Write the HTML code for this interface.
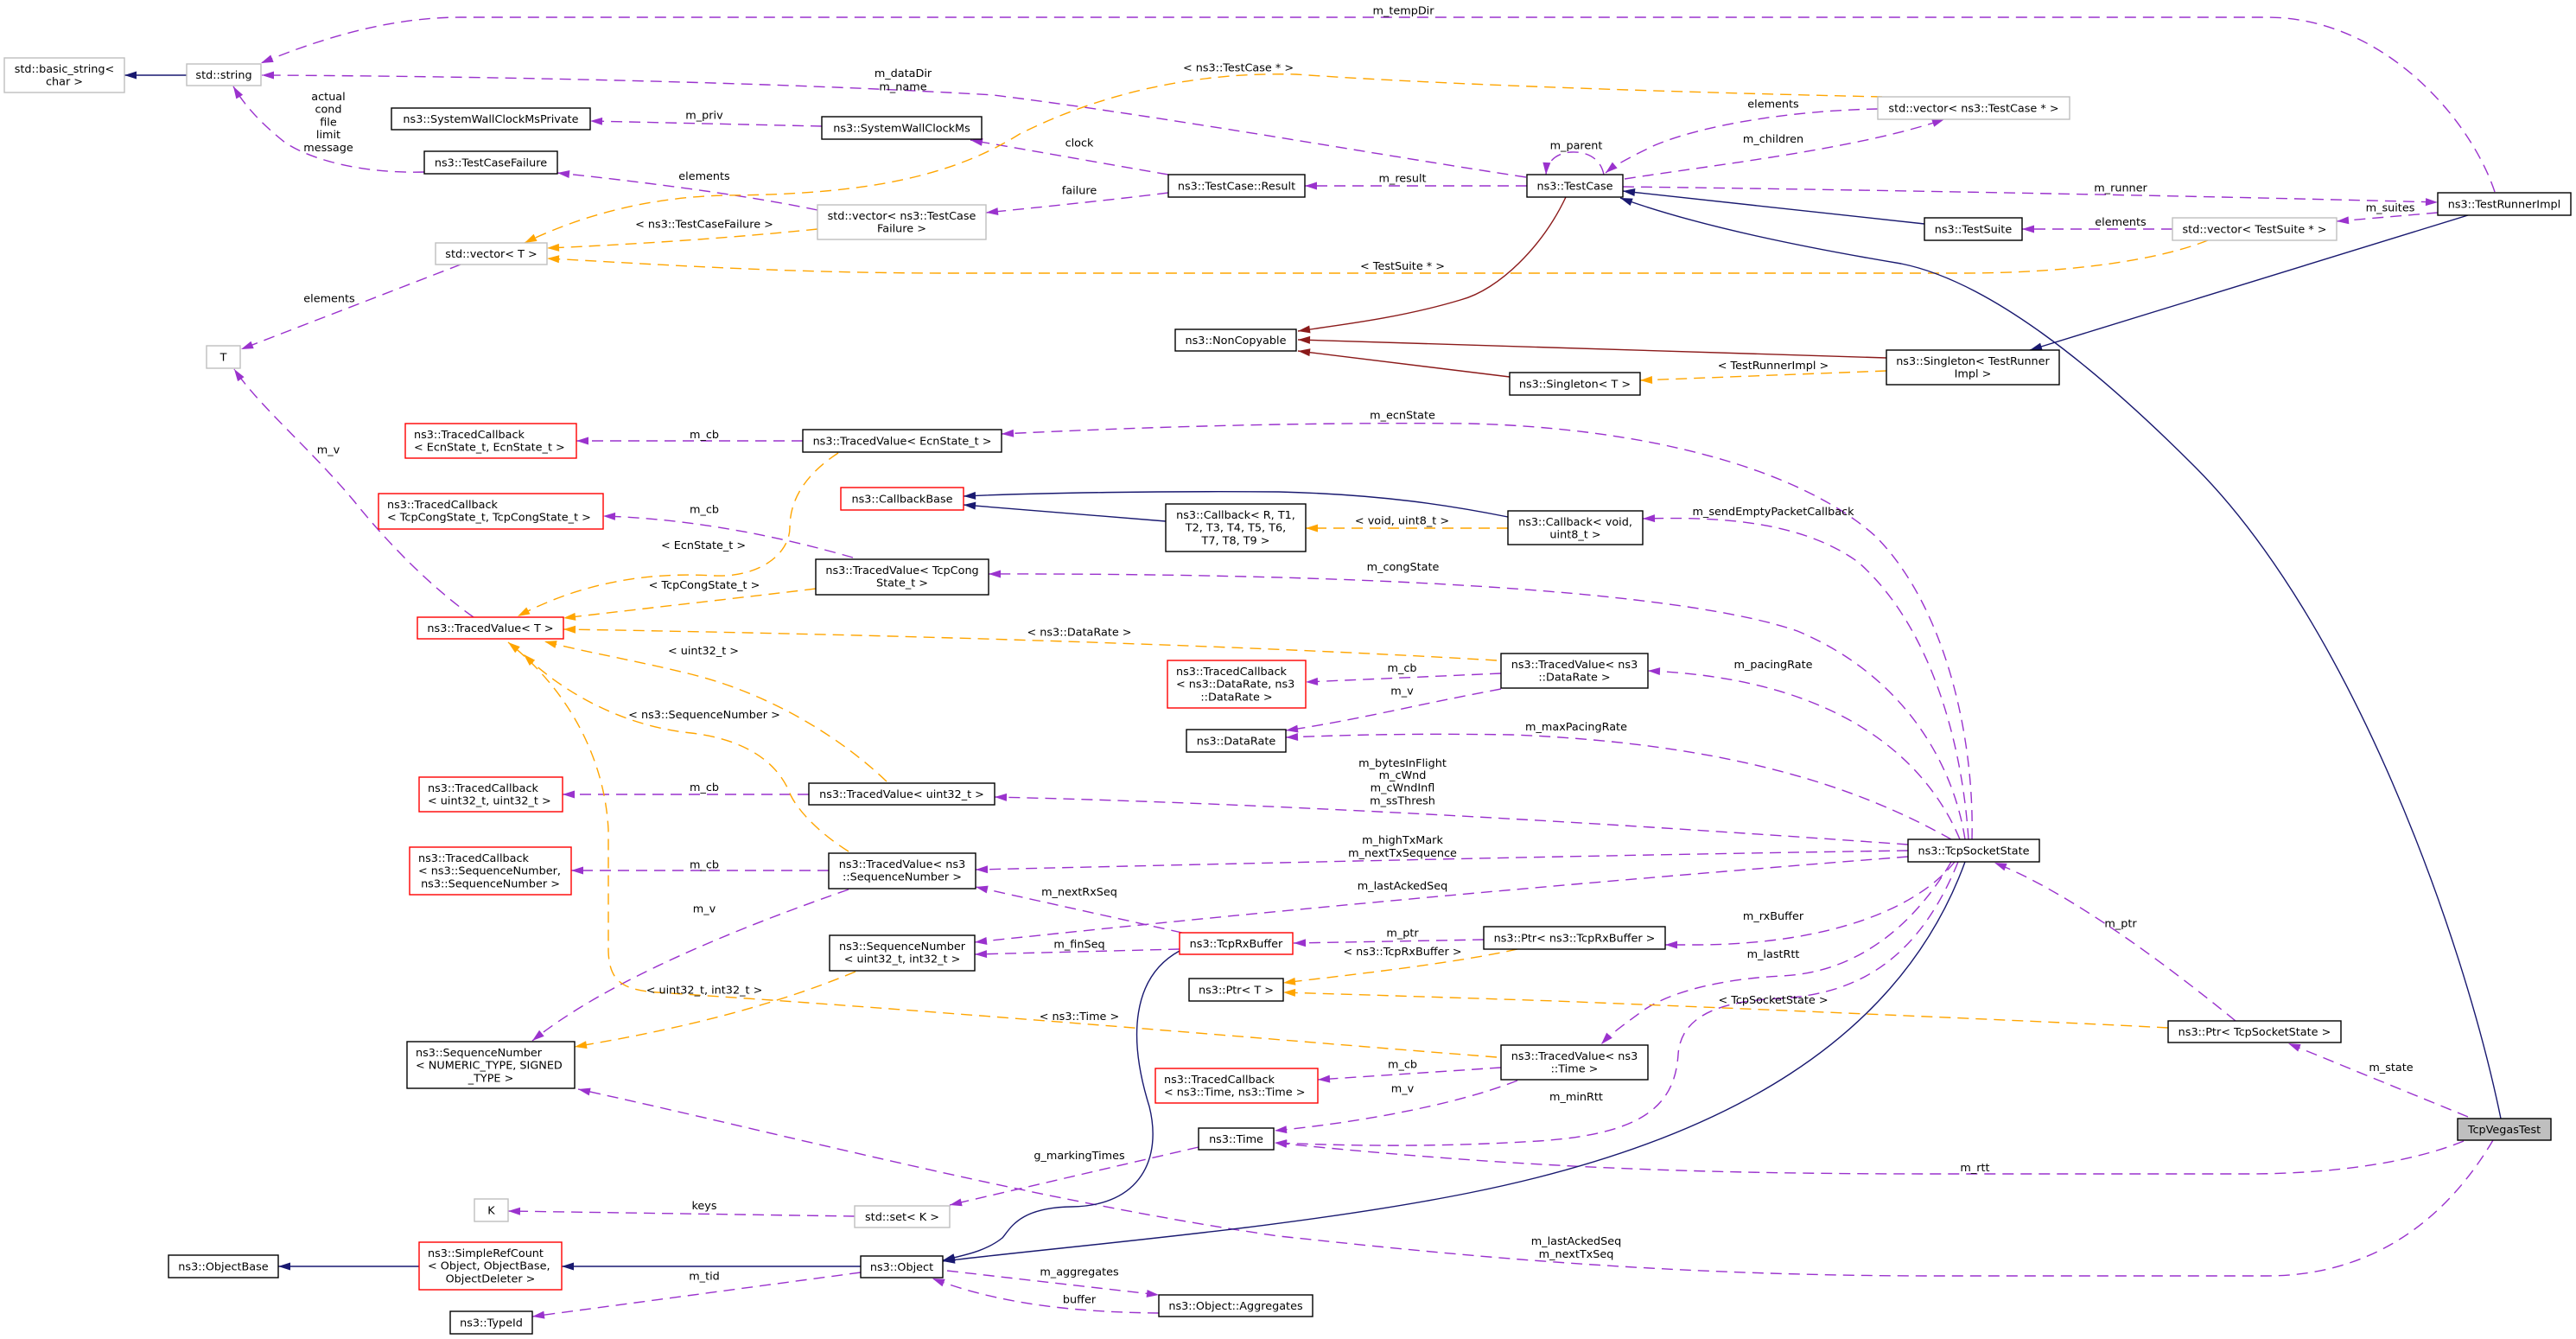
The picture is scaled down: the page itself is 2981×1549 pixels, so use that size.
<!DOCTYPE html>
<html><head><meta charset="utf-8"><style>
html,body{margin:0;padding:0;background:#fff;}
svg{display:block;}
text{font-family:"DejaVu Sans","Liberation Sans",sans-serif;font-size:12.8px;fill:#000;}
.c{text-anchor:middle;}
.nb{fill:#fff;stroke:#000;stroke-width:1.4;}
.ng{fill:#fff;stroke:#bfbfbf;stroke-width:1.4;}
.nr{fill:#fff;stroke:#ff0000;stroke-width:1.4;}
.p{fill:none;stroke:#9a32cd;stroke-width:1.4;stroke-dasharray:13,8;marker-end:url(#ap);}
.o{fill:none;stroke:#ffa500;stroke-width:1.4;stroke-dasharray:13,8;marker-end:url(#ao);}
.n{fill:none;stroke:#191970;stroke-width:1.4;marker-end:url(#an);}
.r{fill:none;stroke:#8b1a1a;stroke-width:1.4;marker-end:url(#ar);}
</style></head><body>
<svg width="2981" height="1549" viewBox="0 0 2981 1549" xmlns="http://www.w3.org/2000/svg">
<defs>
<marker id="ap" markerWidth="16" markerHeight="10" refX="14" refY="4.5" orient="auto" markerUnits="userSpaceOnUse" overflow="visible"><path d="M0,0 L14,4.5 L0,9 z" fill="#9a32cd"/></marker>
<marker id="ao" markerWidth="16" markerHeight="10" refX="14" refY="4.5" orient="auto" markerUnits="userSpaceOnUse" overflow="visible"><path d="M0,0 L14,4.5 L0,9 z" fill="#ffa500"/></marker>
<marker id="an" markerWidth="16" markerHeight="10" refX="14" refY="4.5" orient="auto" markerUnits="userSpaceOnUse" overflow="visible"><path d="M0,0 L14,4.5 L0,9 z" fill="#191970"/></marker>
<marker id="ar" markerWidth="16" markerHeight="10" refX="14" refY="4.5" orient="auto" markerUnits="userSpaceOnUse" overflow="visible"><path d="M0,0 L14,4.5 L0,9 z" fill="#8b1a1a"/></marker>
</defs>
<rect x="0" y="0" width="2981" height="1549" fill="#fff"/>

<!-- purple edges -->
<path class="p" d="M2887,222 C2860,140 2760,20 2623,20 L533,20 C450,20 370,45 302,73"/>
<path class="p" d="M1766,205 C1600,180 1350,135 1150,110 C900,95 550,88 303,87"/>
<path class="p" d="M951,146 L683,140"/>
<path class="p" d="M1352,202 L1123,162"/>
<path class="p" d="M1352,223 C1280,232 1200,240 1141,246"/>
<path class="p" d="M946,243 C860,225 740,210 645,200"/>
<path class="p" d="M491,199 C420,201 360,185 330,165 C305,145 285,125 270,100"/>
<path class="p" d="M533,306 L279,404"/>
<path class="p" d="M548,714 C500,680 450,630 410,580 C360,520 300,470 271,427"/>
<path class="p" d="M1767,215 L1510,215"/>
<path class="p" d="M1856,202 C1852,182 1835,175 1818,176 C1802,177 1790,186 1789,202"/>
<path class="p" d="M2173,126 C2070,128 1970,145 1915,168 C1890,180 1870,190 1858,200"/>
<path class="p" d="M1880,207 C1990,190 2150,172 2250,138"/>
<path class="p" d="M1878,216 C2200,220 2600,228 2821,234"/>
<path class="p" d="M2821,246 L2704,256"/>
<path class="p" d="M2514,265 L2340,265"/>
<path class="p" d="M2282,971 C2285,850 2250,700 2170,620 C2080,540 1900,495 1700,490 C1500,488 1300,495 1159,502"/>
<path class="p" d="M2278,971 C2270,850 2230,720 2150,650 C2080,600 1980,598 1901,600"/>
<path class="p" d="M2274,971 C2260,880 2200,780 2080,730 C1950,685 1600,663 1144,664"/>
<path class="p" d="M2268,971 C2230,880 2130,785 1907,776"/>
<path class="p" d="M2258,971 C2150,910 2000,860 1750,850 C1620,848 1540,851 1488,853"/>
<path class="p" d="M2208,977 C1900,955 1500,930 1151,922"/>
<path class="p" d="M2208,984 C1800,990 1400,1000 1129,1006"/>
<path class="p" d="M2208,991 C1900,1015 1500,1050 1128,1090"/>
<path class="p" d="M2262,997 C2220,1050 2120,1092 1965,1093 L1927,1093"/>
<path class="p" d="M2258,997 C2215,1070 2150,1125 2062,1129 C2000,1132 1935,1145 1900,1170 C1880,1185 1865,1195 1853,1208"/>
<path class="p" d="M2266,997 C2220,1110 2150,1150 2060,1155 C1990,1158 1945,1175 1942,1220 C1938,1280 1900,1312 1780,1320 C1650,1328 1550,1325 1475,1322"/>
<path class="p" d="M2587,1181 C2500,1110 2390,1030 2308,998"/>
<path class="p" d="M2856,1292 L2648,1207"/>
<path class="p" d="M2851,1320 C2790,1345 2700,1358 2600,1358 L2240,1358 C1950,1358 1750,1350 1475,1322"/>
<path class="p" d="M2885,1319 C2840,1395 2760,1476 2623,1476 L2240,1476 C1900,1476 1650,1448 1480,1430 C1200,1390 900,1310 669,1260"/>
<path class="p" d="M1368,1079 L1129,1026"/>
<path class="p" d="M1365,1098 L1128,1104"/>
<path class="p" d="M959,1007 L661,1007"/>
<path class="p" d="M982,1029 Q720,1120 616,1204"/>
<path class="p" d="M1737,1235 L1525,1249"/>
<path class="p" d="M1756,1250 C1680,1280 1560,1300 1475,1308"/>
<path class="p" d="M1717,1087 L1497,1091"/>
<path class="p" d="M1387,1327 L1099,1394"/>
<path class="p" d="M989,1407 L588,1401"/>
<path class="p" d="M996,1472 L616,1523"/>
<path class="p" d="M1096,1470 L1341,1498"/>
<path class="p" d="M1341,1519 C1250,1518 1160,1510 1079,1479"/>
<path class="p" d="M929,510 L667,510"/>
<path class="p" d="M987,645 C900,620 800,600 698,597"/>
<path class="p" d="M936,919 L651,919"/>
<path class="p" d="M1737,779 L1511,789"/>
<path class="p" d="M1737,797 C1640,815 1560,835 1488,845"/>

<!-- orange edges -->
<path class="o" d="M2178,112 C2000,108 1700,100 1500,86 C1350,82 1240,125 1180,155 C1100,205 1000,225 840,226 C740,228 660,255 607,281"/>
<path class="o" d="M946,265 C850,275 730,283 633,287"/>
<path class="o" d="M2555,278 C2500,300 2400,316 2270,316 L1100,316 C900,316 750,305 633,299"/>
<path class="o" d="M2183,429 L1898,440"/>
<path class="o" d="M970,524 C930,550 914,580 914,610 C914,640 880,668 827,666 C760,662 680,670 599,713"/>
<path class="o" d="M944,681 C870,690 780,700 652,715"/>
<path class="o" d="M1732,764 C1500,750 1100,735 652,728"/>
<path class="o" d="M1026,904 C980,860 900,805 800,780 C740,765 680,755 630,742"/>
<path class="o" d="M982,985 C950,965 925,940 915,920 C900,880 860,855 800,848 C720,840 650,800 606,757"/>
<path class="o" d="M1732,1223 C1500,1205 1100,1170 760,1148 C720,1145 705,1135 704,1100 L704,960 C700,880 660,800 588,743"/>
<path class="o" d="M990,1124 C880,1170 760,1195 665,1211"/>
<path class="o" d="M1745,611 L1511,611"/>
<path class="o" d="M1756,1098 C1680,1115 1560,1128 1485,1137"/>
<path class="o" d="M2509,1189 C2400,1183 2000,1166 1800,1158 C1650,1153 1550,1150 1485,1148"/>

<!-- navy edges -->
<path class="n" d="M216,87 L144,87"/>
<path class="n" d="M2227,259 L1878,221"/>
<path class="n" d="M2856,249 L2349,405"/>
<path class="n" d="M2894,1294 C2850,1080 2720,720 2540,540 C2420,420 2300,325 2200,305 C2080,285 1960,260 1875,229"/>
<path class="n" d="M1745,598 C1680,585 1600,572 1480,569 C1350,568 1200,570 1115,574"/>
<path class="n" d="M1349,603 L1115,584"/>
<path class="n" d="M2274,997 C2200,1200 2000,1320 1700,1380 C1500,1420 1250,1440 1091,1459"/>
<path class="n" d="M1365,1100 C1310,1130 1305,1200 1330,1280 C1345,1340 1320,1395 1240,1396 C1180,1397 1170,1420 1160,1432 C1140,1448 1115,1452 1091,1458"/>
<path class="n" d="M485,1465 L322,1465"/>
<path class="n" d="M996,1465 L650,1465"/>

<!-- dark red edges -->
<path class="r" d="M1812,228 C1785,285 1735,335 1690,347 C1620,368 1550,376 1502,383"/>
<path class="r" d="M2183,414 L1502,393"/>
<path class="r" d="M1747,436 L1502,406"/>

<!-- nodes -->
<rect class="ng" x="5" y="67" width="139" height="40"/>
<text class="c" x="74.5" y="84">std::basic_string&lt;</text>
<text class="c" x="74.5" y="98.7">char &gt;</text>

<rect class="ng" x="216" y="74" width="86" height="25"/>
<text class="c" x="259" y="91">std::string</text>

<rect class="nb" x="453" y="125" width="230" height="25"/>
<text class="c" x="568" y="142">ns3::SystemWallClockMsPrivate</text>

<rect class="nb" x="491" y="175" width="154" height="26"/>
<text class="c" x="568" y="192.5">ns3::TestCaseFailure</text>

<rect class="ng" x="504" y="281" width="129" height="25"/>
<text class="c" x="568.5" y="298">std::vector&lt; T &gt;</text>

<rect class="ng" x="239" y="400" width="39" height="26"/>
<text class="c" x="258.5" y="417.5">T</text>

<rect class="nr" x="469" y="490" width="198" height="40"/>
<text x="479" y="507">ns3::TracedCallback</text>
<text x="479" y="521.7">&lt; EcnState_t, EcnState_t &gt;</text>

<rect class="nr" x="438" y="571" width="260" height="41"/>
<text x="448" y="588">ns3::TracedCallback</text>
<text x="448" y="602.7">&lt; TcpCongState_t, TcpCongState_t &gt;</text>

<rect class="nr" x="483" y="714" width="169" height="25"/>
<text class="c" x="567.5" y="731">ns3::TracedValue&lt; T &gt;</text>

<rect class="nr" x="485" y="899" width="166" height="40"/>
<text x="495" y="916">ns3::TracedCallback</text>
<text x="495" y="930.7">&lt; uint32_t, uint32_t &gt;</text>

<rect class="nr" x="474" y="980" width="187" height="55"/>
<text x="484" y="997">ns3::TracedCallback</text>
<text x="484" y="1011.7">&lt; ns3::SequenceNumber,</text>
<text class="c" x="567.5" y="1026.4">ns3::SequenceNumber &gt;</text>

<rect class="nb" x="471" y="1205" width="194" height="54"/>
<text x="481" y="1222">ns3::SequenceNumber</text>
<text x="481" y="1236.7">&lt; NUMERIC_TYPE, SIGNED</text>
<text class="c" x="568" y="1251.4">_TYPE &gt;</text>

<rect class="ng" x="549" y="1387" width="39" height="26"/>
<text class="c" x="568.5" y="1404.5">K</text>

<rect class="nb" x="195" y="1452" width="127" height="26"/>
<text class="c" x="258.5" y="1469.5">ns3::ObjectBase</text>

<rect class="nr" x="485" y="1437" width="165" height="55"/>
<text x="495" y="1454">ns3::SimpleRefCount</text>
<text x="495" y="1468.7">&lt; Object, ObjectBase,</text>
<text class="c" x="567.5" y="1483.4">ObjectDeleter &gt;</text>

<rect class="nb" x="521" y="1517" width="95" height="26"/>
<text class="c" x="568.5" y="1534.5">ns3::TypeId</text>

<rect class="nb" x="951" y="135" width="185" height="26"/>
<text class="c" x="1043.5" y="152.5">ns3::SystemWallClockMs</text>

<rect class="ng" x="946" y="237" width="195" height="40"/>
<text class="c" x="1043.5" y="254">std::vector&lt; ns3::TestCase</text>
<text class="c" x="1043.5" y="268.7">Failure &gt;</text>

<rect class="nb" x="1352" y="202" width="158" height="26"/>
<text class="c" x="1431" y="219.5">ns3::TestCase::Result</text>

<rect class="nb" x="1360" y="381" width="140" height="25"/>
<text class="c" x="1430" y="398">ns3::NonCopyable</text>

<rect class="nb" x="929" y="497" width="230" height="26"/>
<text class="c" x="1044" y="514.5">ns3::TracedValue&lt; EcnState_t &gt;</text>

<rect class="nr" x="973" y="564" width="142" height="26"/>
<text class="c" x="1044" y="581.5">ns3::CallbackBase</text>

<rect class="nb" x="1349" y="583" width="162" height="55"/>
<text class="c" x="1430" y="600">ns3::Callback&lt; R, T1,</text>
<text class="c" x="1430" y="614.7">T2, T3, T4, T5, T6,</text>
<text class="c" x="1430" y="629.4">T7, T8, T9 &gt;</text>

<rect class="nb" x="944" y="647" width="200" height="41"/>
<text class="c" x="1044" y="664">ns3::TracedValue&lt; TcpCong</text>
<text class="c" x="1044" y="678.7">State_t &gt;</text>

<rect class="nr" x="1351" y="764" width="160" height="55"/>
<text x="1361" y="781">ns3::TracedCallback</text>
<text x="1361" y="795.7">&lt; ns3::DataRate, ns3</text>
<text class="c" x="1431" y="810.4">::DataRate &gt;</text>

<rect class="nb" x="1373" y="844" width="115" height="26"/>
<text class="c" x="1430.5" y="861.5">ns3::DataRate</text>

<rect class="nb" x="936" y="906" width="215" height="25"/>
<text class="c" x="1043.5" y="923">ns3::TracedValue&lt; uint32_t &gt;</text>

<rect class="nb" x="959" y="987" width="170" height="41"/>
<text class="c" x="1044" y="1004">ns3::TracedValue&lt; ns3</text>
<text class="c" x="1044" y="1018.7">::SequenceNumber &gt;</text>

<rect class="nb" x="960" y="1082" width="168" height="41"/>
<text class="c" x="1044" y="1099">ns3::SequenceNumber</text>
<text class="c" x="1044" y="1113.7">&lt; uint32_t, int32_t &gt;</text>

<rect class="nr" x="1365" y="1079" width="131" height="25"/>
<text class="c" x="1430.5" y="1096">ns3::TcpRxBuffer</text>

<rect class="nb" x="1376" y="1132" width="109" height="26"/>
<text class="c" x="1430.5" y="1149.5">ns3::Ptr&lt; T &gt;</text>

<rect class="nr" x="1337" y="1236" width="188" height="40"/>
<text x="1347" y="1253">ns3::TracedCallback</text>
<text x="1347" y="1267.7">&lt; ns3::Time, ns3::Time &gt;</text>

<rect class="nb" x="1387" y="1305" width="87" height="25"/>
<text class="c" x="1430.5" y="1322">ns3::Time</text>

<rect class="ng" x="989" y="1395" width="110" height="25"/>
<text class="c" x="1044" y="1412">std::set&lt; K &gt;</text>

<rect class="nb" x="996" y="1453" width="95" height="25"/>
<text class="c" x="1043.5" y="1470">ns3::Object</text>

<rect class="nb" x="1341" y="1498" width="178" height="25"/>
<text class="c" x="1430" y="1515">ns3::Object::Aggregates</text>

<rect class="nb" x="1767" y="202" width="111" height="26"/>
<text class="c" x="1822.5" y="219.5">ns3::TestCase</text>

<rect class="ng" x="2173" y="112" width="222" height="26"/>
<text class="c" x="2284" y="129.5">std::vector&lt; ns3::TestCase * &gt;</text>

<rect class="nb" x="2183" y="405" width="200" height="40"/>
<text class="c" x="2283" y="422">ns3::Singleton&lt; TestRunner</text>
<text class="c" x="2283" y="436.7">Impl &gt;</text>

<rect class="nb" x="1747" y="431" width="151" height="26"/>
<text class="c" x="1822.5" y="448.5">ns3::Singleton&lt; T &gt;</text>

<rect class="nb" x="2227" y="252" width="113" height="26"/>
<text class="c" x="2283.5" y="269.5">ns3::TestSuite</text>

<rect class="nb" x="2821" y="223" width="154" height="26"/>
<text class="c" x="2898" y="240.5">ns3::TestRunnerImpl</text>

<rect class="ng" x="2514" y="252" width="190" height="26"/>
<text class="c" x="2609" y="269.5">std::vector&lt; TestSuite * &gt;</text>

<rect class="nb" x="1745" y="591" width="156" height="39"/>
<text class="c" x="1823" y="608">ns3::Callback&lt; void,</text>
<text class="c" x="1823" y="622.7">uint8_t &gt;</text>

<rect class="nb" x="1737" y="756" width="170" height="40"/>
<text class="c" x="1822" y="773">ns3::TracedValue&lt; ns3</text>
<text class="c" x="1822" y="787.7">::DataRate &gt;</text>

<rect class="nb" x="2208" y="971" width="152" height="26"/>
<text class="c" x="2284" y="988.5">ns3::TcpSocketState</text>

<rect class="nb" x="1717" y="1072" width="210" height="26"/>
<text class="c" x="1822" y="1089.5">ns3::Ptr&lt; ns3::TcpRxBuffer &gt;</text>

<rect class="nb" x="1737" y="1209" width="170" height="40"/>
<text class="c" x="1822" y="1226">ns3::TracedValue&lt; ns3</text>
<text class="c" x="1822" y="1240.7">::Time &gt;</text>

<rect class="nb" x="2509" y="1181" width="200" height="25"/>
<text class="c" x="2609" y="1198">ns3::Ptr&lt; TcpSocketState &gt;</text>

<rect x="2844" y="1294" width="108" height="25" fill="#bfbfbf" stroke="#000" stroke-width="1.4"/>
<text class="c" x="2898" y="1311">TcpVegasTest</text>

<!-- edge labels -->
<text class="c" x="1624" y="16.5">m_tempDir</text>
<text class="c" x="1045" y="89">m_dataDir</text>
<text class="c" x="1045" y="104.5">m_name</text>
<text class="c" x="1433" y="82.5">&lt; ns3::TestCase * &gt;</text>
<text class="c" x="815" y="137.5">m_priv</text>
<text class="c" x="1249" y="169.5">clock</text>
<text class="c" x="815" y="208">elements</text>
<text class="c" x="1249" y="224.5">failure</text>
<text class="c" x="380" y="116">actual</text>
<text class="c" x="380" y="130.7">cond</text>
<text class="c" x="380" y="145.4">file</text>
<text class="c" x="380" y="160.1">limit</text>
<text class="c" x="380" y="174.8">message</text>
<text class="c" x="815" y="263.5">&lt; ns3::TestCaseFailure &gt;</text>
<text class="c" x="381" y="349.5">elements</text>
<text class="c" x="380" y="524.5">m_v</text>
<text class="c" x="1824" y="172.5">m_parent</text>
<text class="c" x="2052" y="124.5">elements</text>
<text class="c" x="2052" y="165">m_children</text>
<text class="c" x="1623" y="210.5">m_result</text>
<text class="c" x="1623" y="312">&lt; TestSuite * &gt;</text>
<text class="c" x="2052" y="427">&lt; TestRunnerImpl &gt;</text>
<text class="c" x="1623" y="484.5">m_ecnState</text>
<text class="c" x="2454" y="221.5">m_runner</text>
<text class="c" x="2766" y="244.5">m_suites</text>
<text class="c" x="2454" y="261">elements</text>
<text class="c" x="815" y="507">m_cb</text>
<text class="c" x="815" y="593.5">m_cb</text>
<text class="c" x="814" y="635">&lt; EcnState_t &gt;</text>
<text class="c" x="815" y="681">&lt; TcpCongState_t &gt;</text>
<text class="c" x="1249" y="735.5">&lt; ns3::DataRate &gt;</text>
<text class="c" x="814" y="757">&lt; uint32_t &gt;</text>
<text class="c" x="815" y="831">&lt; ns3::SequenceNumber &gt;</text>
<text class="c" x="815" y="915">m_cb</text>
<text class="c" x="815" y="1004.5">m_cb</text>
<text class="c" x="1249" y="1036">m_nextRxSeq</text>
<text class="c" x="1622.5" y="606.5">&lt; void, uint8_t &gt;</text>
<text class="c" x="2052" y="596">m_sendEmptyPacketCallback</text>
<text class="c" x="1623.5" y="660">m_congState</text>
<text class="c" x="1622.5" y="777">m_cb</text>
<text class="c" x="1622.5" y="803.5">m_v</text>
<text class="c" x="2052" y="773">m_pacingRate</text>
<text class="c" x="1824" y="845">m_maxPacingRate</text>
<text class="c" x="1623" y="887">m_bytesInFlight</text>
<text class="c" x="1623" y="901">m_cWnd</text>
<text class="c" x="1623" y="915.5">m_cWndInfl</text>
<text class="c" x="1623" y="930.5">m_ssThresh</text>
<text class="c" x="1623" y="976">m_highTxMark</text>
<text class="c" x="1623" y="991">m_nextTxSequence</text>
<text class="c" x="1623" y="1029">m_lastAckedSeq</text>
<text class="c" x="2454" y="1072.5">m_ptr</text>
<text class="c" x="2767" y="1239">m_state</text>
<text class="c" x="2285.5" y="1355">m_rtt</text>
<text class="c" x="1623" y="1083.5">m_ptr</text>
<text class="c" x="1623" y="1105">&lt; ns3::TcpRxBuffer &gt;</text>
<text class="c" x="2052" y="1064">m_rxBuffer</text>
<text class="c" x="2052" y="1108">m_lastRtt</text>
<text class="c" x="2052" y="1161">&lt; TcpSocketState &gt;</text>
<text class="c" x="1623" y="1235.5">m_cb</text>
<text class="c" x="1623" y="1263.5">m_v</text>
<text class="c" x="1824" y="1273">m_minRtt</text>
<text class="c" x="1824" y="1440">m_lastAckedSeq</text>
<text class="c" x="1824" y="1455">m_nextTxSeq</text>
<text class="c" x="815" y="1055.5">m_v</text>
<text class="c" x="1249" y="1096.5">m_finSeq</text>
<text class="c" x="815" y="1149.5">&lt; uint32_t, int32_t &gt;</text>
<text class="c" x="1249" y="1180">&lt; ns3::Time &gt;</text>
<text class="c" x="1249" y="1341">g_markingTimes</text>
<text class="c" x="815" y="1399">keys</text>
<text class="c" x="815" y="1480.5">m_tid</text>
<text class="c" x="1249" y="1475.5">m_aggregates</text>
<text class="c" x="1249" y="1507.5">buffer</text>
</svg>
</body></html>
